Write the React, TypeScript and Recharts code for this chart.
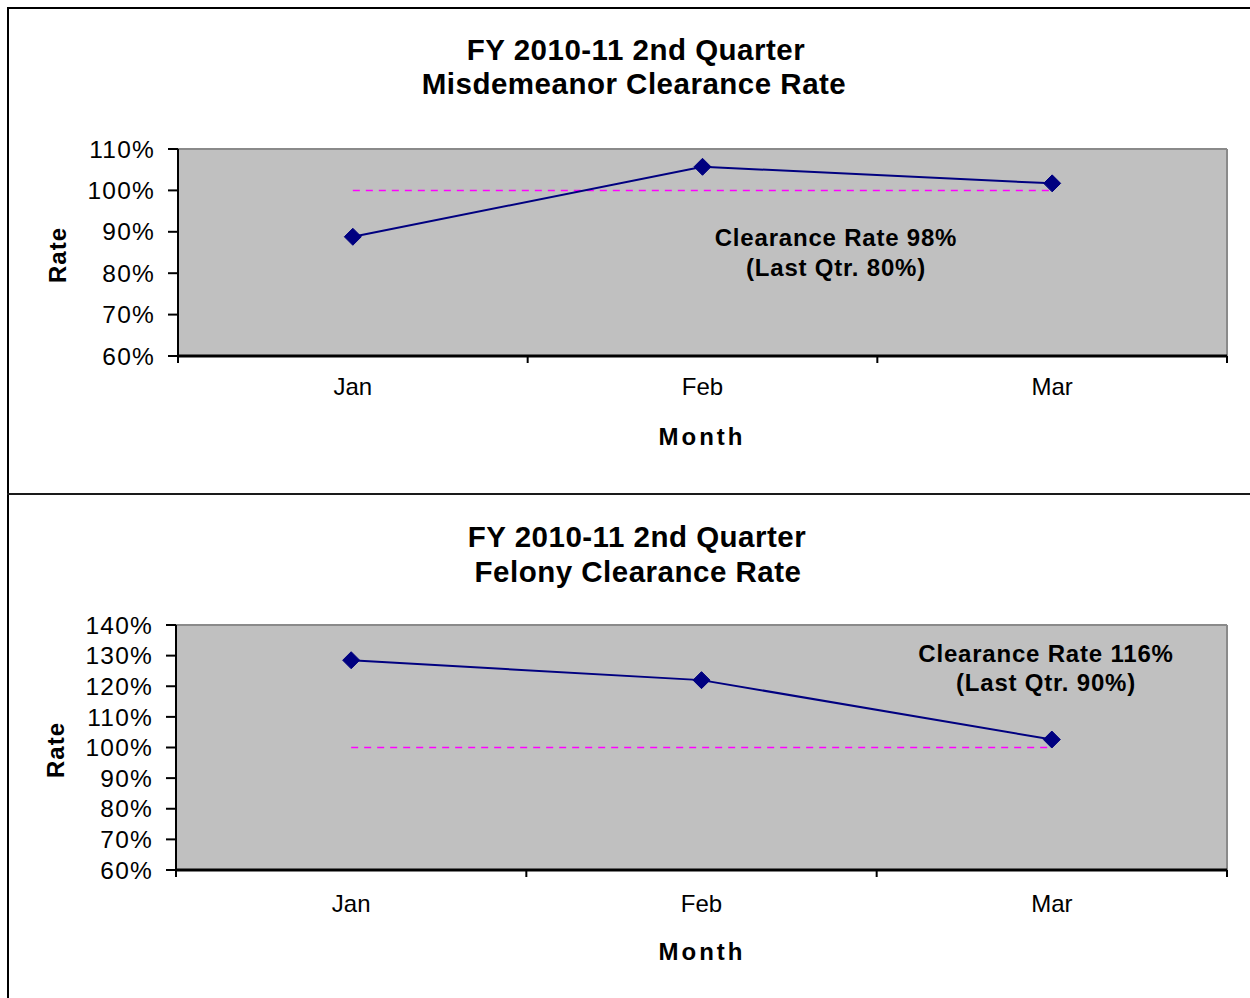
import React from 'react';
import { LineChart, Line, XAxis, YAxis, CartesianGrid } from 'recharts';

const months = ['Jan', 'Feb', 'Mar'];
const misdemeanorRate = [88.8, 105.7, 101.7];
const felonyRate = [128.5, 122.0, 102.6];
const targetRate = [100, 100, 100];
const misdemeanorTicks = [60, 70, 80, 90, 100, 110];
const felonyTicks = [60, 70, 80, 90, 100, 110, 120, 130, 140];

const FONT = '"Liberation Sans", Arial, sans-serif';

const buildRows = (rates: number[]) =>
  months.map((m, i) => ({ month: m, rate: rates[i], target: targetRate[i] }));

const Diamond = (props: any) => {
  const { cx, cy } = props;
  if (cx == null || cy == null) return null;
  return (
    <polygon
      points={`${cx},${cy - 8.5} ${cx + 8.5},${cy} ${cx},${cy + 8.5} ${cx - 8.5},${cy}`}
      fill="#000080"
      stroke="#000080"
    />
  );
};

// month label plus tick marks on the category boundaries (Excel style)
const MonthTick = (props: any) => {
  const { x, y, payload, index, visibleTicksCount, gap } = props;
  const half = payload?.offset ?? 0;
  const base = y - gap;
  const last = index === visibleTicksCount - 1;
  return (
    <g>
      {half > 0 && <line x1={x - half} x2={x - half} y1={base} y2={base + 7} stroke="#000" strokeWidth={2} />}
      {half > 0 && last && <line x1={x + half} x2={x + half} y1={base} y2={base + 7} stroke="#000" strokeWidth={2} />}
      <text x={x} y={y} dy="0.71em" textAnchor="middle" fill="#000" fontSize={24} fontFamily={FONT}>
        {payload.value}
      </text>
    </g>
  );
};

const txt = (extra: React.CSSProperties): React.CSSProperties => ({
  position: 'absolute',
  transform: 'translate(-50%, -50%)',
  whiteSpace: 'nowrap',
  lineHeight: 1,
  fontFamily: FONT,
  color: '#000',
  textAlign: 'center',
  ...extra,
});

type PanelProps = {
  top: number;
  height: number;
  marginTop: number;
  marginBottom: number;
  marginLeft: number;
  labelGap: number;
  rates: number[];
  ticks: number[];
};

function Panel({ top, height, marginTop, marginBottom, marginLeft, labelGap, rates, ticks }: PanelProps) {
  const data = buildRows(rates);
  const lo = ticks[0];
  const hi = ticks[ticks.length - 1];
  return (
    <div style={{ position: 'absolute', left: 0, top, width: 1250, height }}>
      <LineChart
        width={1250}
        height={height}
        data={data}
        margin={{ top: marginTop - 1, right: 22, bottom: marginBottom - 1, left: marginLeft }}
      >
        <CartesianGrid horizontal={false} vertical={false} fill="#c0c0c0" fillOpacity={1} />
        {/* plot frame: grey top and right edges */}
        <XAxis
          xAxisId="frame"
          orientation="top"
          type="number"
          domain={[0, 3]}
          allowDataOverflow
          height={1}
          tick={false}
          tickLine={false}
          axisLine={{ stroke: '#8a8a8a', strokeWidth: 2 }}
        />
        <YAxis
          yAxisId="frame"
          orientation="right"
          domain={[lo, hi]}
          width={1}
          tick={false}
          tickLine={false}
          axisLine={{ stroke: '#8a8a8a', strokeWidth: 2 }}
        />
        <XAxis
          dataKey="month"
          scale="band"
          height={1}
          interval={0}
          tickLine={false}
          tickSize={0}
          tickMargin={labelGap}
          axisLine={{ stroke: '#000', strokeWidth: 3 }}
          tick={(p: any) => <MonthTick key={`t-${p.index}`} {...p} gap={labelGap} />}
        />
        <YAxis
          width={80}
          domain={[lo, hi]}
          ticks={ticks}
          interval={0}
          tickSize={10}
          tickMargin={13}
          tickFormatter={(v: number) => `${v}%`}
          axisLine={{ stroke: '#000', strokeWidth: 2 }}
          tickLine={{ stroke: '#000', strokeWidth: 2 }}
          tick={{ fill: '#000', fontSize: 24.5, fontFamily: FONT, letterSpacing: 1.2 }}
        />
        <Line
          dataKey="target"
          stroke="#ff00ff"
          strokeWidth={1.5}
          strokeDasharray="7 6"
          dot={false}
          isAnimationActive={false}
        />
        <Line
          dataKey="rate"
          stroke="#000080"
          strokeWidth={2}
          dot={(p: any) => <Diamond key={`d-${p.index}`} {...p} />}
          activeDot={false}
          isAnimationActive={false}
        />
      </LineChart>
    </div>
  );
}

export default function App() {
  const title = { fontSize: 29.5, fontWeight: 700, letterSpacing: 0.5 };
  const note = { fontSize: 24, fontWeight: 700, letterSpacing: 0.8 };
  const axisTitle = { fontSize: 24, fontWeight: 700, letterSpacing: 3 };
  return (
    <div style={{ position: 'relative', width: 1250, height: 998, background: '#fff', overflow: 'hidden' }}>
      <style>{'body{margin:0;overflow:hidden}'}</style>
      <div style={{ position: 'absolute', left: 7, top: 7, width: 2, height: 991, background: '#000' }} />
      <div style={{ position: 'absolute', left: 7, top: 7, width: 1243, height: 2, background: '#000' }} />
      <div style={{ position: 'absolute', left: 7, top: 493, width: 1243, height: 2, background: '#1a1a1a' }} />

      <Panel top={0} height={493} marginTop={149} marginBottom={137} marginLeft={98} labelGap={22} rates={misdemeanorRate} ticks={misdemeanorTicks} />
      <Panel top={495} height={503} marginTop={130} marginBottom={128} marginLeft={96} labelGap={25} rates={felonyRate} ticks={felonyTicks} />

      <div style={txt({ ...title, left: 636, top: 50 })}>FY 2010-11 2nd Quarter</div>
      <div style={txt({ ...title, left: 634, top: 84 })}>Misdemeanor Clearance Rate</div>
      <div style={txt({ ...axisTitle, left: 702, top: 437 })}>Month</div>
      <div style={txt({ ...axisTitle, left: 58, top: 255, transform: 'translate(-50%, -50%) rotate(-90deg)', letterSpacing: 1 })}>Rate</div>
      <div style={txt({ ...note, left: 836, top: 238 })}>Clearance Rate 98%</div>
      <div style={txt({ ...note, left: 836, top: 268 })}>(Last Qtr. 80%)</div>

      <div style={txt({ ...title, left: 637, top: 537 })}>FY 2010-11 2nd Quarter</div>
      <div style={txt({ ...title, left: 638, top: 572 })}>Felony Clearance Rate</div>
      <div style={txt({ ...axisTitle, left: 702, top: 952 })}>Month</div>
      <div style={txt({ ...axisTitle, left: 56, top: 750, transform: 'translate(-50%, -50%) rotate(-90deg)', letterSpacing: 1 })}>Rate</div>
      <div style={txt({ ...note, left: 1046, top: 654 })}>Clearance Rate 116%</div>
      <div style={txt({ ...note, left: 1046, top: 683 })}>(Last Qtr. 90%)</div>
    </div>
  );
}
